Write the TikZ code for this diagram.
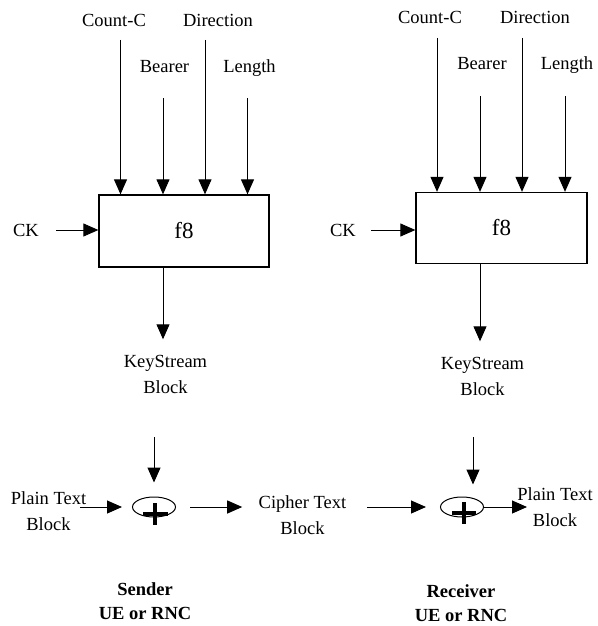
\documentclass[tikz,border=0pt]{standalone}
\usepackage{fontspec}
\setmainfont{Liberation Serif}
\usetikzlibrary{arrows.meta,positioning,calc,shapes.geometric}

\begin{document}
\begin{tikzpicture}[
      x=1pt, y=-1pt,
      font=\fontsize{18.5}{26}\selectfont,
      line width=1pt,
      fbox/.style={draw, line width=1.3pt, minimum width=170pt,
                   minimum height=72pt, inner sep=0pt,
                   font=\fontsize{23}{26}\selectfont},
      lbl/.style={inner sep=0pt, align=center},
      side/.style={lbl, font=\fontsize{18.5}{24}\selectfont\bfseries},
      xorring/.style={draw, ellipse, minimum width=43pt, minimum height=20pt,
                      inner sep=0pt},
      plusbar/.style={line width=3.8pt},
      >={Triangle[length=15pt,width=13pt]}]

    \useasboundingbox (0,0) rectangle (597,626);

    \node[fbox] (lf8) at (184,231) {f8};
    \node[lbl, anchor=base] (lcnt) at (114,27) {Count-C};
    \node[lbl, anchor=base] (ldir) at (218,27) {Direction};
    \node[lbl, anchor=base] (lbear) at (164.5,73) {Bearer};
    \node[lbl, anchor=base] (llen) at (249.5,73) {Length};
    \coordinate (lcntin) at (120.5,40);
    \coordinate (lbearin) at (163,98);
    \coordinate (ldirin) at (205,40);
    \coordinate (llenin) at (247.5,98);
    \draw[->] (lcntin) -- (lcntin |- lf8.north);
    \draw[->] (lbearin) -- (lbearin |- lf8.north);
    \draw[->] (ldirin) -- (ldirin |- lf8.north);
    \draw[->] (llenin) -- (llenin |- lf8.north);

    \node[lbl] (lck) at (26,230) {CK};
    \draw[->, shorten <=17pt] (lck.east) -- (lck.east -| lf8.west);

    \node[lbl] (lks) at (165.5,374) {KeyStream\\Block};
    \draw[->, shorten >=15pt] (lbearin |- lf8.south) -- (lbearin |- lks.north);

    \node[lbl] (lplain) at (48.5,511) {Plain Text\\Block};
    \node[xorring] (lxor) at (154,507) {};
    \draw[plusbar] ([shift={(-11,7)}]lxor.center) -- ++(25,0)
                   ([shift={(1,-4)}]lxor.center) -- ++(0,22);
    \coordinate (lkin) at (154,437);
    \coordinate (lplainout) at (80,507);
    \draw[->, shorten >=14pt] (lkin) -- (lxor.north);
    \draw[->, shorten >=10pt] (lplainout) -- (lxor.west);

    \node[lbl] (lcipher) at (302.5,515) {Cipher Text\\Block};
    \draw[->, shorten <=14pt, shorten >=16pt] (lxor.east) -- (lxor.east -| lcipher.west);

    \node[side] (lside) at (145,601) {Sender\\UE or RNC};

    \node[fbox, minimum width=171pt, minimum height=71pt] (rf8) at (501.5,228) {f8};
    \node[lbl, anchor=base] (rcnt) at (430,24) {Count-C};
    \node[lbl, anchor=base] (rdir) at (535,24) {Direction};
    \node[lbl, anchor=base] (rbear) at (482,70) {Bearer};
    \node[lbl, anchor=base] (rlen) at (567,70) {Length};
    \coordinate (rcntin) at (437,38);
    \coordinate (rbearin) at (480,96);
    \coordinate (rdirin) at (522,38);
    \coordinate (rlenin) at (565,96);
    \draw[->] (rcntin) -- (rcntin |- rf8.north);
    \draw[->] (rbearin) -- (rbearin |- rf8.north);
    \draw[->] (rdirin) -- (rdirin |- rf8.north);
    \draw[->] (rlenin) -- (rlenin |- rf8.north);

    \node[lbl] (rck) at (343,230) {CK};
    \draw[->, shorten <=15pt] (rck.east) -- (rck.east -| rf8.west);

    \node[lbl] (rks) at (482.5,376) {KeyStream\\Block};
    \draw[->, shorten >=15pt] (rbearin |- rf8.south) -- (rbearin |- rks.north);

    \node[xorring] (rxor) at (462,507) {};
    \draw[plusbar] ([shift={(-10,6)}]rxor.center) -- ++(24,0)
                   ([shift={(2,-5)}]rxor.center) -- ++(0,22);
    \coordinate (rkin) at (473,437);
    \draw[->, shorten >=12pt] (rkin) -- (rkin |- rxor.north);
    \draw[->, shorten <=20pt, shorten >=14pt] (lcipher.east |- lxor.east) -- (rxor.west);

    \node[lbl] (rplain) at (555,507) {Plain Text\\Block};
    \coordinate (rplainin) at (527,507);
    \draw[->] (rxor.east) -- (rplainin);

    \node[side] (rside) at (461,603) {Receiver\\UE or RNC};
  \end{tikzpicture}
\end{document}
